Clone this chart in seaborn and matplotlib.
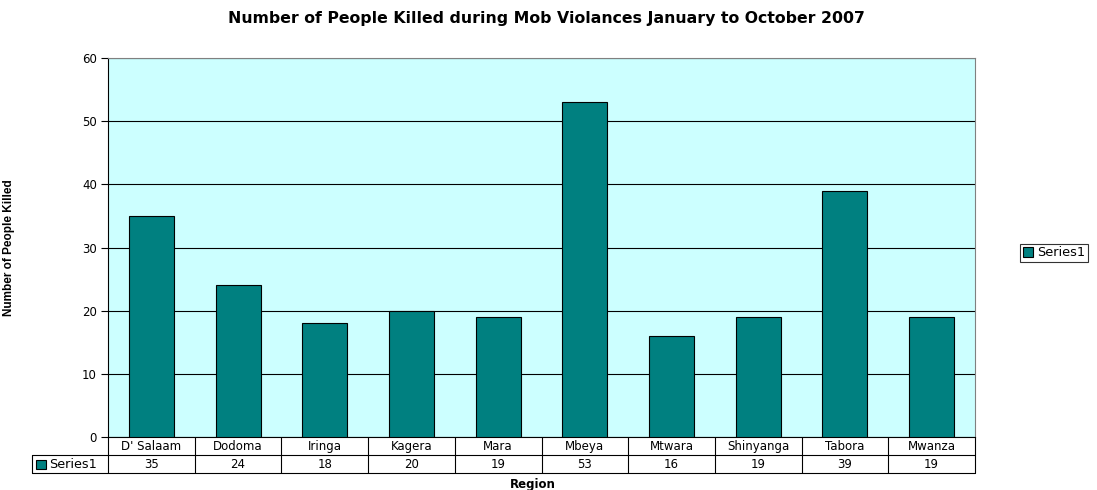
import numpy as np
import pandas as pd
import matplotlib
matplotlib.use("Agg")
import matplotlib.pyplot as plt
import seaborn as sns
from matplotlib.transforms import blended_transform_factory
from matplotlib.patches import Rectangle

regions = ["D' Salaam", "Dodoma", "Iringa", "Kagera", "Mara", "Mbeya",
           "Mtwara", "Shinyanga", "Tabora", "Mwanza"]
killed = [35, 24, 18, 20, 19, 53, 16, 19, 39, 19]
series_name = "Series1"

sns.set_theme(style="white")
plt.rcParams['font.family'] = ['DejaVu Sans']
plt.rcParams['text.color'] = 'black'
plt.rcParams['axes.labelcolor'] = 'black'
plt.rcParams['ytick.color'] = 'black'
plt.rcParams['xtick.color'] = 'black'

bar_color = "#008080"
bg_color = "#CCFFFF"

df = pd.DataFrame({"Region": regions, "Killed": killed})

fig = plt.figure(figsize=(10.97, 4.9), dpi=100)
ax = fig.add_axes([108 / 1097, 1 - 437 / 490, 867 / 1097, 379 / 490])
ax.set_facecolor(bg_color)

sns.barplot(data=df, x="Region", y="Killed", color=bar_color, width=0.52,
            edgecolor="black", linewidth=0.8, saturation=1, ax=ax, zorder=3)

ax.set_ylim(0, 60)
ax.set_xlim(-0.5, len(regions) - 0.5)
ax.set_yticks(range(0, 61, 10))
ax.yaxis.grid(True, color="black", linewidth=0.8, zorder=1)
ax.set_axisbelow(True)
ax.tick_params(axis="y", direction="out", length=5, width=0.8, color="black",
               labelsize=8.5, pad=3, left=True)
ax.tick_params(axis="x", bottom=False, labelbottom=False)
ax.set_xlabel("")
ax.set_ylabel("Number of People Killed", fontsize=8.5, fontweight="bold",
              family=["Liberation Sans"])
ax.yaxis.set_label_coords((15 - 108) / 867, 0.5)

for side in ["top", "right"]:
    ax.spines[side].set_color("#808080")
ax.spines["left"].set_color("black")
ax.spines["bottom"].set_color("black")
for s in ax.spines.values():
    s.set_linewidth(0.8)

# data table below the plot
tr = blended_transform_factory(ax.transData, ax.transAxes)
row_h = 18 / 379
n = len(regions)
for i, (r, v) in enumerate(zip(regions, killed)):
    ax.text(i, -row_h / 2, r, transform=tr, ha="center", va="center",
            fontsize=8.5, clip_on=False)
    ax.text(i, -row_h * 1.5, str(v), transform=tr, ha="center", va="center",
            fontsize=8.5, clip_on=False)
for i in range(n + 1):
    ax.plot([i - 0.5, i - 0.5], [0, -2 * row_h], transform=tr, color="black",
            linewidth=0.8, clip_on=False)
left_cell = (32 - 108) / 867
ta = ax.transAxes
ax.plot([left_cell, 1], [-row_h, -row_h], transform=ta, color="black", lw=0.8, clip_on=False)
ax.plot([left_cell, 1], [-2 * row_h, -2 * row_h], transform=ta, color="black", lw=0.8, clip_on=False)
ax.plot([left_cell, left_cell], [-row_h, -2 * row_h], transform=ta, color="black", lw=0.8, clip_on=False)
key_w = 10 / 867
key_h = 9 / 379
ax.add_patch(Rectangle((left_cell + 4 / 867, -1.5 * row_h - key_h / 2), key_w, key_h,
                       transform=ta, facecolor=bar_color, edgecolor="black",
                       linewidth=0.8, clip_on=False))
ax.text(left_cell + 17 / 867, -1.5 * row_h, series_name, transform=ta,
        ha="left", va="center", fontsize=9.2, clip_on=False)

fig.text(533 / 1097, 1 - 484 / 490, "Region", ha="center", va="center",
         fontsize=8.5, fontweight="bold")
fig.text(546 / 1097, 1 - 19 / 490,
         "Number of People Killed during Mob Violances January to October 2007",
         ha="center", va="center", fontsize=11.3, fontweight="bold")

# legend
handle = Rectangle((0, 0), 1, 1, facecolor=bar_color, edgecolor="black", linewidth=0.8)
leg = fig.legend([handle], [series_name], loc="center left",
                 bbox_to_anchor=(1020 / 1097, 1 - 253 / 490), fontsize=9.3,
                 frameon=True, fancybox=False, handlelength=0.8, handleheight=0.8,
                 handletextpad=0.3, borderpad=0.2, borderaxespad=0)
leg.get_frame().set_edgecolor("black")
leg.get_frame().set_linewidth(0.8)

fig.savefig("out.png", dpi=100)
